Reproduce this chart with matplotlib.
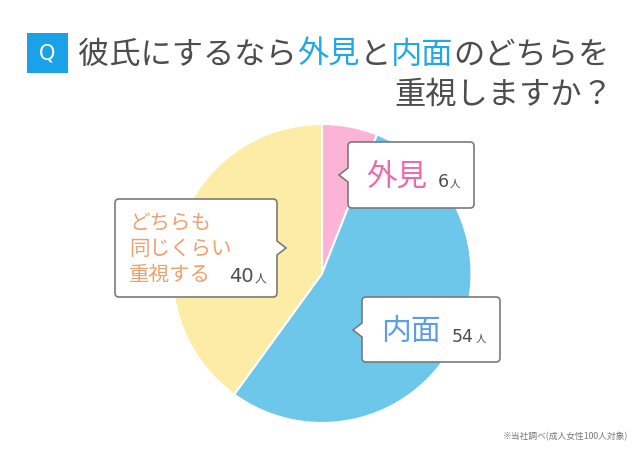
import matplotlib
matplotlib.use("Agg")
import matplotlib.pyplot as plt
from matplotlib.path import Path
from matplotlib.patches import PathPatch, Rectangle

plt.rcParams['font.family'] = ['Noto Sans CJK JP', 'DejaVu Sans']

# data
labels = ["外見", "内面", "どちらも\n同じくらい\n重視する"]
values = [6, 54, 40]
unit = "人"
title_segments = ["彼氏にするなら", "外見", "と", "内面", "のどちらを"]
title_line2 = "重視しますか？"
note = "※当社調べ(成人女性100人対象)"

# styles
wedge_colors = ["#fbb3d6", "#6cc7eb", "#fdeca5"]
label_colors = ["#ec6aad", "#5b9ee6", "#f0a070"]
gray = "#4d4d4d"
accent = "#22a7e8"

W, H = 642, 450
fig = plt.figure(figsize=(W / 100, H / 100), dpi=100)
fig.patch.set_facecolor("white")

# pie axes, centre (322, 273.5) radius 149.5 px
cx, cy, rad = 322, 273.5, 149.5
ax_p = fig.add_axes([(cx - rad) / W, (H - cy - rad) / H, 2 * rad / W, 2 * rad / H])
ax_p.pie(values, colors=wedge_colors, startangle=90, counterclock=False,
         wedgeprops=dict(edgecolor="white", linewidth=1.5))
ax_p.set_xlim(-1, 1)
ax_p.set_ylim(-1, 1)
ax_p.axis("off")

# overlay in pixel coordinates
ax = fig.add_axes([0, 0, 1, 1])
ax.set_xlim(0, W)
ax.set_ylim(H, 0)
ax.axis("off")
r = fig.canvas.get_renderer()

# title
ax.add_patch(Rectangle((27, 33), 41, 40, facecolor="#1ba1e8", edgecolor="none"))
ax.text(47.5, 53.5, "Q", color="white", fontsize=15, ha="center", va="center",
        family="DejaVu Sans")
x = 78
for s in title_segments:
    c = accent if s in labels else gray
    t = ax.text(x, 55, s, color=c, fontsize=22.5, ha="left", va="center")
    x = t.get_window_extent(r).x1
ax.text(613, 95, title_line2, color=gray, fontsize=22.5, ha="right", va="center")


def callout(x0, y0, x1, y1, side, ty, rr=4, d=9, h=7):
    v = [(x0 + rr, y0), (x1 - rr, y0), (x1, y0), (x1, y0 + rr)]
    c = [Path.MOVETO, Path.LINETO, Path.CURVE3, Path.CURVE3]
    if side == "right":
        v += [(x1, ty - h), (x1 + d, ty), (x1, ty + h)]
        c += [Path.LINETO] * 3
    v += [(x1, y1 - rr), (x1, y1), (x1 - rr, y1), (x0 + rr, y1), (x0, y1), (x0, y1 - rr)]
    c += [Path.LINETO, Path.CURVE3, Path.CURVE3, Path.LINETO, Path.CURVE3, Path.CURVE3]
    if side == "left":
        v += [(x0, ty + h), (x0 - d, ty), (x0, ty - h)]
        c += [Path.LINETO] * 3
    v += [(x0, y0 + rr), (x0, y0), (x0 + rr, y0), (x0 + rr, y0)]
    c += [Path.LINETO, Path.CURVE3, Path.CURVE3, Path.CLOSEPOLY]
    ax.add_patch(PathPatch(Path(v, c), facecolor="white", edgecolor="#7a7a7a", lw=1.2))


# 外見
callout(348, 142, 474, 208, "left", 175)
ax.text(397, 177, labels[0], color=label_colors[0], fontsize=22, ha="center", va="center")
t = ax.text(438, 187, str(values[0]), color=gray, fontsize=12.5, ha="left", va="baseline",
            family="DejaVu Sans")
ax.text(t.get_window_extent(r).x1 + 1, 187, unit, color=gray, fontsize=7.5, ha="left", va="baseline")

# 内面
callout(362, 297, 500, 362, "left", 330)
ax.text(411, 332, labels[1], color=label_colors[1], fontsize=21.5, ha="center", va="center")
t = ax.text(452, 342, str(values[1]), color=gray, fontsize=12.5, ha="left", va="baseline",
            family="DejaVu Sans")
ax.text(t.get_window_extent(r).x1 + 2, 342, unit, color=gray, fontsize=7.5, ha="left", va="baseline")

# どちらも
callout(115, 199, 277, 297, "right", 248)
for k, line in enumerate(labels[2].split("\n")):
    ax.text(129, 223 + k * 26, line, color=label_colors[2], fontsize=14.8, ha="left", va="center")
t = ax.text(229, 282, str(values[2]), color=gray, fontsize=14, ha="left", va="baseline",
            family="DejaVu Sans")
ax.text(t.get_window_extent(r).x1 + 1, 282, unit, color=gray, fontsize=8.5, ha="left", va="baseline")

# footnote
ax.text(628, 437, note, color="#777777", fontsize=6.3, ha="right", va="center")

fig.savefig("out.png", dpi=100)
